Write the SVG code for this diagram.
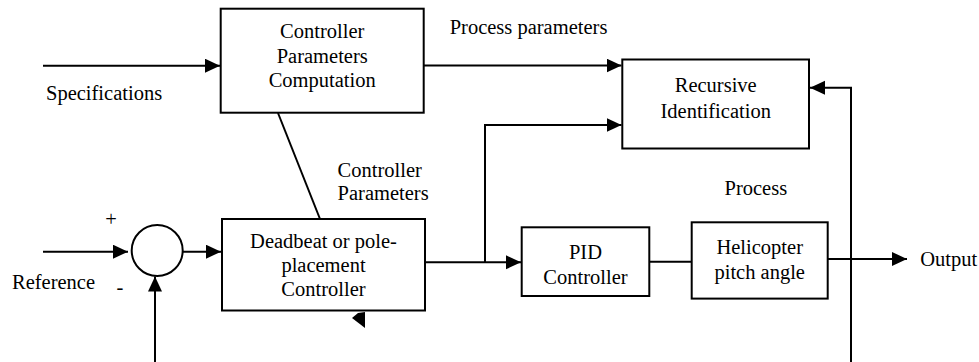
<svg xmlns="http://www.w3.org/2000/svg" width="979" height="362" viewBox="0 0 979 362">
<style>
  .box{fill:#fff;stroke:#000;stroke-width:2}
  .ln{fill:none;stroke:#000;stroke-width:2}
  .arr{fill:none;stroke:#000;stroke-width:2;marker-end:url(#ah)}
  text{font-family:"Liberation Serif","Times New Roman",serif;font-size:20.5px;fill:#000}
  .c{text-anchor:middle}
</style>
<defs>
  <marker id="ah" markerUnits="userSpaceOnUse" markerWidth="16" markerHeight="15" refX="15" refY="7" orient="auto">
    <path d="M0,0 L15,7 L0,14 z" fill="#000"/>
  </marker>
</defs>
<rect width="979" height="362" fill="#fff"/>
<g id="connectors">
  <line class="arr" x1="43" y1="65.7" x2="220" y2="65.7"/>
  <line class="arr" x1="424" y1="65.5" x2="621.5" y2="65.5"/>
  <line class="ln" x1="278" y1="113" x2="320" y2="219"/>
  <line class="arr" x1="43" y1="251.7" x2="128" y2="251.7"/>
  <line class="arr" x1="183" y1="251.7" x2="221" y2="251.7"/>
  <line class="arr" x1="155" y1="362" x2="155" y2="276.5"/>
  <line class="arr" x1="425" y1="262.3" x2="521" y2="262.3"/>
  <polyline class="arr" points="485,262.3 485,125 621.5,125"/>
  <line class="ln" x1="649.3" y1="261.7" x2="691.7" y2="261.7"/>
  <line class="arr" x1="827.7" y1="259" x2="907" y2="259"/>
  <polyline class="arr" points="851,362 851,87.7 810,87.7"/>
  <polygon points="352,318 358,313 365,312 365,328" fill="#000"/>
</g>
<g id="sum">
  <circle cx="157.2" cy="250.5" r="25.5" class="box"/>
  <text x="111" y="225.5" class="c">+</text>
  <text x="120" y="293.5" class="c">-</text>
</g>
<g id="cpc">
  <rect class="box" x="220.7" y="8.7" width="203" height="104"/>
  <text x="322.2" y="38.3" class="c">Controller</text>
  <text x="322.2" y="62.7" class="c">Parameters</text>
  <text x="322.2" y="87.3" class="c">Computation</text>
</g>
<g id="deadbeat">
  <rect class="box" x="222" y="219" width="203" height="91.5"/>
  <text x="323.5" y="248" class="c">Deadbeat or pole-</text>
  <text x="323.5" y="272" class="c">placement</text>
  <text x="323.5" y="296" class="c">Controller</text>
</g>
<g id="recursive">
  <rect class="box" x="622.3" y="59.5" width="186.7" height="89"/>
  <text x="715.7" y="92.4" class="c">Recursive</text>
  <text x="715.7" y="118" class="c">Identification</text>
</g>
<g id="pid">
  <rect class="box" x="521.7" y="227.3" width="127.6" height="68.7"/>
  <text x="585.5" y="259.3" class="c">PID</text>
  <text x="585.5" y="284" class="c">Controller</text>
</g>
<g id="heli">
  <rect class="box" x="691.7" y="222.3" width="136" height="76.3"/>
  <text x="759.7" y="254" class="c">Helicopter</text>
  <text x="759.7" y="279" class="c">pitch angle</text>
</g>
<g id="labels">
  <text x="46" y="100">Specifications</text>
  <text x="449.7" y="33.8">Process parameters</text>
  <text x="337.6" y="176.6">Controller</text>
  <text x="337.6" y="200.3">Parameters</text>
  <text x="12" y="288.7">Reference</text>
  <text x="724.5" y="195">Process</text>
  <text x="920.3" y="265.5">Output</text>
</g>
</svg>
